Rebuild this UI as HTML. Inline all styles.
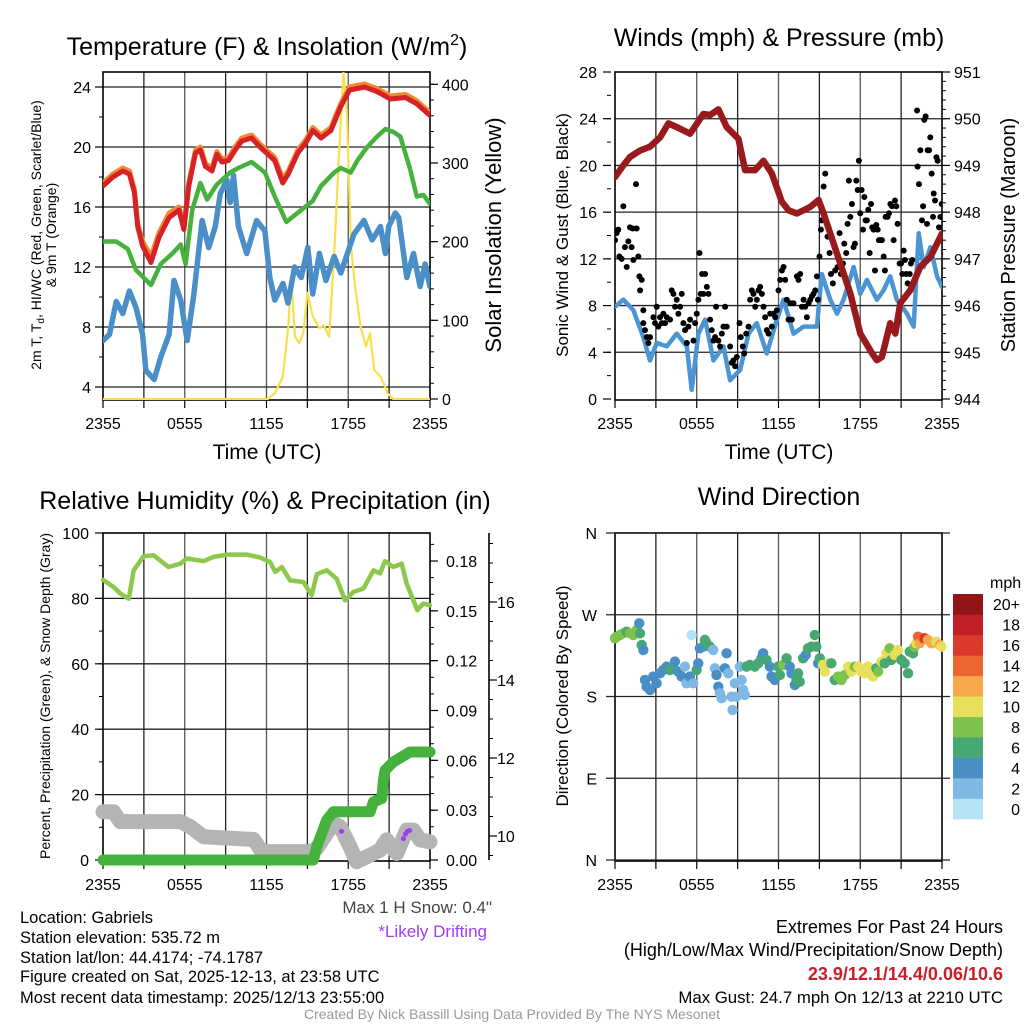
<!DOCTYPE html>
<html><head><meta charset="utf-8">
<style>
html,body{margin:0;padding:0;background:#fff;}
svg{display:block;font-family:"Liberation Sans",Arial,sans-serif;}
</style></head>
<body>
<svg id="fig" width="1024" height="1024" viewBox="0 0 1024 1024" xmlns="http://www.w3.org/2000/svg">
<defs>
<clipPath id="c1"><rect x="103" y="72" width="327" height="328"/></clipPath>
<clipPath id="c2"><rect x="615" y="72" width="327" height="328"/></clipPath>
<clipPath id="c3"><rect x="92" y="520" width="346" height="350"/></clipPath>
<clipPath id="c4"><rect x="608" y="525" width="342" height="342"/></clipPath>
</defs>
<text x="267" y="55" font-size="25" text-anchor="middle">Temperature (F) &amp; Insolation (W/m<tspan dy="-10" font-size="16">2</tspan><tspan dy="10">)</tspan></text>
<text x="779" y="46" font-size="25" text-anchor="middle">Winds (mph) &amp; Pressure (mb)</text>
<text x="265" y="509" font-size="25" text-anchor="middle">Relative Humidity (%) &amp; Precipitation (in)</text>
<text x="779" y="505" font-size="25" text-anchor="middle">Wind Direction</text>

<text transform="translate(41,235) rotate(-90)" font-size="14" text-anchor="middle">2m T, T<tspan dy="3" font-size="10">d</tspan><tspan dy="-3">, HI/WC (Red, Green, Scarlet/Blue)</tspan></text>
<text transform="translate(56,235) rotate(-90)" font-size="14" text-anchor="middle">&amp; 9m T (Orange)</text>
<text transform="translate(501,235) rotate(-90)" font-size="22" text-anchor="middle">Solar Insolation (Yellow)</text>
<text x="267" y="459" font-size="21" text-anchor="middle">Time (UTC)</text>
<text transform="translate(568,235) rotate(-90)" font-size="17" text-anchor="middle">Sonic Wind &amp; Gust (Blue, Black)</text>
<text transform="translate(1015,235) rotate(-90)" font-size="20" text-anchor="middle">Station Pressure (Maroon)</text>
<text x="779" y="459" font-size="21" text-anchor="middle">Time (UTC)</text>
<text transform="translate(50,696) rotate(-90)" font-size="14" text-anchor="middle">Percent, Precipitation (Green), &amp; Snow Depth (Gray)</text>
<text transform="translate(568,696) rotate(-90)" font-size="17" text-anchor="middle">Direction (Colored By Speed)</text>

<g font-size="16.5">
<text x="20" y="923">Location: Gabriels</text>
<text x="20" y="943">Station elevation: 535.72 m</text>
<text x="20" y="963">Station lat/lon: 44.4174; -74.1787</text>
<text x="20" y="982">Figure created on Sat, 2025-12-13, at 23:58 UTC</text>
<text x="20" y="1003">Most recent data timestamp: 2025/12/13 23:55:00</text>
<text x="492" y="913" text-anchor="end" font-size="17" fill="#444">Max 1 H Snow: 0.4"</text>
<text x="487" y="937" text-anchor="end" font-size="17" fill="#a23cf0">*Likely Drifting</text>
<text x="1003" y="933" text-anchor="end" font-size="18">Extremes For Past 24 Hours</text>
<text x="1003" y="956" text-anchor="end" font-size="18">(High/Low/Max Wind/Precipitation/Snow Depth)</text>
<text x="1003" y="980" text-anchor="end" font-size="18" font-weight="bold" fill="#c8202a">23.9/12.1/14.4/0.06/10.6</text>
<text x="1003" y="1003" text-anchor="end" font-size="16.8">Max Gust: 24.7 mph On 12/13 at 2210 UTC</text>
<text x="512" y="1019" text-anchor="middle" font-size="14" fill="#999">Created By Nick Bassill Using Data Provided By The NYS Mesonet</text>
</g>
<g id="plots"></g>
</svg>
<script>
// ---------- Panel 1 data ----------
const tempT = [0,0.73,1.45,1.94,2.3,2.55,2.91,3.52,4.12,4.85,5.58,5.94,6.3,6.79,7.15,7.52,8.0,8.36,8.73,9.21,9.7,10.18,10.91,11.52,12.6,13.2,13.6,14.3,14.9,15.4,16.0,16.73,17.45,18.1,19.2,20.1,21.1,22.2,23.0,24.0];
const tempV = [17.4,18.0,18.4,18.2,17.0,14.7,13.4,12.3,14.0,15.3,15.8,14.5,17.4,19.6,19.8,18.7,18.4,19.5,19.0,19.1,19.8,20.4,20.6,20.0,19.1,17.6,18.2,19.6,20.3,21.1,20.6,21.1,22.7,23.8,24.0,23.7,23.2,23.3,22.9,22.1];
const temp9T = [0,0.73,1.45,1.94,2.3,2.55,2.91,3.52,4.12,4.85,5.58,5.94,6.3,6.79,7.15,7.52,8.0,8.36,8.73,9.21,9.7,10.18,10.91,11.52,12.6,13.2,13.6,14.3,14.9,15.4,16.0,16.73,17.45,18.1,19.2,20.1,21.1,22.2,23.0,24.0];
const temp9V = [17.6,18.2,18.6,18.4,17.2,14.9,13.7,12.7,14.3,15.6,16.0,14.7,17.6,19.8,20.0,18.9,18.6,19.7,19.2,19.3,20.0,20.6,20.8,20.2,19.3,17.9,18.4,19.8,20.5,21.3,20.8,21.3,22.9,24.0,24.2,23.9,23.4,23.5,23.1,22.3];
const dewT = [0,0.97,1.82,2.42,3.52,4.24,5.09,5.7,6.06,6.55,7.15,7.64,8.36,9.33,9.94,10.91,11.88,12.61,13.45,14.55,15.39,16.0,16.97,17.45,18.18,18.67,19.39,20.12,20.73,21.33,21.82,22.55,23.03,23.52,24.0];
const dewV = [13.7,13.7,13.2,11.8,10.8,12.2,12.9,13.5,12.2,15.8,17.6,16.5,17.5,18.3,18.6,19.0,18.3,16.7,15.0,15.8,16.4,17.4,18.3,18.6,18.3,19.1,20.0,20.7,21.2,21.0,20.7,18.5,16.7,16.8,16.2];
const wcT = [0,0.48,0.97,1.45,1.94,2.42,2.91,3.15,3.76,4.24,4.85,5.21,5.7,6.18,6.67,7.27,7.76,8.24,8.61,9.09,9.33,9.58,9.94,10.55,11.27,11.88,12.24,12.61,13.21,13.58,14.06,14.55,15.03,15.39,15.88,16.36,16.97,17.45,17.94,18.42,19.15,19.76,20.36,20.73,20.97,21.45,21.7,22.3,22.79,23.27,23.64,24.0];
const wcV = [7.1,7.5,9.7,8.9,10.4,9.3,7.5,5.1,4.5,6.0,7.5,11.1,9.8,7.1,10.2,15.1,13.3,14.7,16.9,17.8,16.3,18.1,14.7,12.9,15.1,14.4,11.3,9.8,10.9,9.6,12.0,11.3,13.3,10.2,12.9,11.1,12.7,11.6,12.9,14.2,15.1,13.8,14.7,12.9,14.7,15.6,15.3,11.3,12.9,10.7,12.2,10.7];
const solarT = [0,12.1,12.6,13.2,13.6,13.8,14.1,14.4,14.7,15.0,15.4,15.9,16.2,16.6,17.0,17.3,17.65,17.9,18.2,18.5,18.9,19.3,19.6,19.9,20.4,20.9,21.3,24.0];
const solarV = [0,0,7,28,92,156,79,71,84,135,105,90,94,79,194,304,415,364,194,143,92,67,84,37,28,7,0,0];
const p1LeftTicks = [4,8,12,16,20,24];
const p1RightTicks = [0,100,200,300,400];
const timeTicks = ["2355","0555","1155","1755","2355"];

// ---------- Panel 2 data ----------
const windT = [0,0.61,1.35,2.08,2.57,3.06,3.8,4.53,5.27,5.63,6.12,6.61,7.23,7.96,8.45,9.19,9.8,10.41,11.14,11.88,12.37,13.1,13.84,14.82,15.18,15.8,16.29,16.78,17.51,18.0,18.49,19.22,19.71,20.2,20.69,21.43,21.92,22.29,22.66,23.15,23.64,24.0];
const windV = [7.9,8.5,7.6,5.3,3.3,4.8,4.5,5.6,4.5,0.8,5.6,6.8,3.3,4.5,1.6,2.5,5.6,6.5,3.9,6.8,8.5,5.6,6.2,6.2,10.7,8.5,7.3,8.5,11.3,9.0,10.2,8.5,9.3,10.5,8.5,7.3,6.2,14.2,11.3,13.0,10.5,9.6];
const presT = [0,0.61,1.1,1.84,2.57,3.31,3.92,4.53,5.51,6.49,6.98,7.59,8.2,9.06,9.55,10.29,10.9,11.51,12.25,12.74,13.35,14.33,14.94,15.31,16.29,17.27,18.0,18.86,19.22,19.59,20.2,20.57,20.94,21.67,22.41,23.15,24.0];
const presV = [948.75,949.0,949.18,949.32,949.4,949.6,949.9,949.82,949.68,950.1,950.08,950.2,949.82,949.57,948.9,948.9,949.1,948.83,948.22,948.04,947.97,948.11,948.26,947.97,947.11,946.26,945.4,944.98,944.83,944.9,945.62,945.4,946.05,946.33,946.83,947.04,947.54];
const gustT = [0.00,0.12,0.24,0.32,0.49,0.61,0.73,0.86,0.98,1.10,1.22,1.30,1.35,1.54,1.59,1.71,1.79,1.84,1.96,2.08,2.08,2.20,2.33,2.45,2.57,2.82,2.94,3.06,3.18,3.31,3.43,3.55,3.67,3.80,4.04,4.16,4.29,4.41,4.53,4.65,4.78,4.90,5.02,5.14,5.27,5.39,5.51,5.76,5.88,6.00,6.12,6.20,6.29,6.39,6.49,6.61,6.74,6.86,6.98,7.10,7.23,7.35,7.42,7.59,7.71,7.84,7.96,8.08,8.20,8.45,8.57,8.69,8.82,8.94,9.14,9.23,9.38,9.48,9.63,9.80,9.92,10.04,10.16,10.29,10.41,10.53,10.65,10.78,10.90,11.02,11.14,11.27,11.39,11.51,11.63,11.76,11.88,12.00,12.12,12.25,12.37,12.49,12.61,12.74,12.86,12.98,13.10,13.35,13.47,13.59,13.72,13.84,13.96,14.08,14.21,14.33,14.45,14.57,14.70,14.82,14.89,15.01,15.11,15.18,15.31,15.43,15.60,15.75,15.85,15.99,16.16,16.34,16.48,16.58,16.73,16.83,16.97,17.07,17.17,17.27,17.39,17.51,17.61,17.71,17.81,17.90,18.00,18.10,18.20,18.30,18.39,18.49,18.59,18.69,18.79,18.88,18.98,19.08,19.18,19.28,19.37,19.47,19.59,19.72,19.81,19.86,20.01,20.11,20.21,20.33,20.45,20.55,20.65,20.74,20.89,20.99,21.09,21.19,21.28,21.38,21.48,21.63,21.72,21.82,22.17,22.21,22.31,22.41,22.53,22.61,22.70,22.80,22.90,22.95,23.05,23.14,23.24,23.34,23.39,23.49,23.59,23.68,23.78,23.88,23.98];
const gustV = [13.6,14.2,14.5,12.2,12.0,16.5,13.0,11.3,13.5,14.7,13.0,14.6,11.9,18.4,14.6,12.2,10.5,9.3,10.2,7.6,6.5,5.9,5.3,4.8,5.3,7.0,6.5,7.9,6.2,7.0,6.5,7.3,6.5,7.0,6.8,9.3,9.0,7.9,8.5,7.3,7.9,9.0,6.5,5.9,4.8,6.2,6.8,5.0,6.5,7.3,8.5,12.5,9.0,10.7,9.0,10.7,9.6,9.0,6.8,5.9,5.0,5.3,7.9,5.0,4.5,5.6,6.2,7.9,6.2,4.5,3.1,3.3,2.8,3.6,6.5,5.3,4.5,3.9,5.6,6.2,8.5,9.3,9.0,7.9,8.5,9.3,9.6,9.0,7.9,7.0,5.9,5.6,7.3,6.2,7.3,7.0,7.6,9.3,10.2,11.0,11.3,10.2,8.5,6.8,8.2,6.8,8.2,10.5,10.2,10.7,7.9,8.5,7.9,7.0,8.2,8.5,8.8,9.0,9.3,10.5,8.5,12.2,14.5,15.3,18.2,19.3,13.9,12.5,10.7,9.9,11.0,11.3,14.2,10.7,11.6,13.3,12.5,15.0,18.7,15.6,16.7,13.0,13.3,18.7,17.9,20.4,15.9,17.9,14.5,17.3,15.3,15.3,16.2,12.5,16.7,14.7,14.5,11.0,14.9,14.5,13.6,13.6,13.6,12.2,11.0,15.6,15.6,15.9,16.7,16.5,13.6,17.0,16.5,15.0,11.6,11.6,10.7,12.7,11.9,10.7,9.9,10.7,11.6,11.9,24.7,19.9,18.4,21.3,15.3,16.5,23.9,24.2,15.0,21.3,21.3,22.4,19.3,15.6,17.6,17.0,20.7,20.4,14.7,15.6,16.7];
const p2LeftTicks = [0,4,8,12,16,20,24,28];
const p2RightTicks = [944,945,946,947,948,949,950,951];

// ---------- Panel 3 data ----------
const rhT = [0,0.78,1.27,1.89,2.25,2.98,3.71,4.81,5.67,6.16,7.38,8.11,9.09,10.55,11.53,12.27,12.64,13.12,13.73,14.71,15.32,15.69,16.42,17.15,17.77,18.38,19.11,19.85,20.34,20.7,21.31,21.92,22.29,22.78,23.07,23.51,24.0];
const rhV = [85.7,83.5,81.5,79.9,88.6,92.9,93.2,89.6,90.6,92.2,91.4,92.7,93.4,93.4,92.5,91.1,88.1,89.6,85.5,85.0,81.0,87.4,88.6,86.0,79.4,82.0,83.0,88.6,87.6,91.4,89.6,90.6,84.5,79.4,76.4,78.4,77.9];
const precipT = [0,15.44,15.69,16.42,16.91,19.6,19.85,20.46,20.58,20.7,21.31,22.53,24.0];
const precipV = [0,0,0.008,0.024,0.029,0.029,0.035,0.037,0.048,0.054,0.059,0.065,0.065];
const snowT = [0,0.78,1.27,5.67,6.4,7.38,11.05,11.66,15.2,15.69,16.91,17.4,18.13,18.62,19.6,20.34,20.82,21.56,22.29,22.78,23.27,24.0];
const snowV = [10.62,10.62,10.37,10.37,10.24,9.98,9.91,9.6,9.6,9.68,10.33,10.24,9.73,9.34,9.51,9.64,9.9,9.55,10.15,10.15,9.9,9.85];
const driftT = [17.5,22.05,22.2,22.35,22.5];
const driftV = [10.12,9.93,10.05,10.12,10.14];
const p3LeftTicks = [0,20,40,60,80,100];
const p3PrecipTicks = [0,0.03,0.06,0.09,0.12,0.15,0.18];
const p3SnowTicks = [10,12,14,16];

// ---------- Panel 4 data ----------
const dirT = [0,0.12,0.37,0.61,0.86,1.1,1.34,1.59,1.78,1.83,1.96,2.08,2.2,2.32,2.57,2.81,3.05,3.3,3.54,3.79,4.03,4.28,4.4,4.64,4.89,5.13,5.25,5.5,5.62,5.74,5.99,6.11,6.23,6.48,6.6,6.72,6.96,7.21,7.33,7.45,7.58,7.7,7.82,8.06,8.19,8.31,8.55,8.63,8.8,8.92,9.16,9.29,9.41,9.53,9.65,9.9,10.26,10.51,10.75,10.87,11.12,11.36,11.49,11.73,11.97,12.1,12.34,12.59,12.83,12.95,13.2,13.32,13.44,13.56,13.81,14.0,14.17,14.42,14.66,14.78,14.91,15.03,15.27,15.4,15.64,15.88,16.13,16.37,16.62,16.86,17.11,17.35,17.6,17.84,18.08,18.33,18.57,18.82,18.94,19.18,19.31,19.55,19.79,19.92,20.16,20.28,20.53,20.77,21.02,21.26,21.51,21.63,21.87,21.99,22.12,22.24,22.36,22.61,22.73,22.97,23.22,23.58,23.83,23.95];
const dirV = [244.1,245.9,247.7,249.6,251.4,249.6,247.7,253.2,260.6,249.6,236.7,231.2,198.2,190.8,187.2,201.9,194.5,205.5,209.2,212.9,209.2,211.0,218.4,207.4,201.9,212.9,194.5,201.9,247.7,194.5,209.2,216.5,233.0,234.9,242.2,238.6,234.9,231.2,211.0,203.7,190.8,183.5,178.0,211.0,227.5,205.5,179.8,165.2,194.5,179.8,212.9,198.2,187.2,181.7,212.9,214.7,212.9,216.5,222.0,227.5,220.2,212.9,201.9,198.2,212.9,203.7,214.7,222.0,212.9,205.5,192.7,198.2,205.5,196.3,222.0,225.7,233.0,234.9,247.7,234.9,216.5,222.0,214.7,207.4,216.5,216.5,198.2,201.9,198.2,203.7,212.9,207.4,212.9,212.9,207.4,205.5,212.9,207.4,201.9,211.0,207.4,218.4,216.5,227.5,233.0,220.2,225.7,231.2,220.2,216.5,205.5,229.4,227.5,234.9,238.6,245.9,238.6,244.1,244.1,242.2,238.6,240.4,236.7,234.9];
const dirS = [8,8,8,8,6,8,8,8,4,6,6,4,4,4,4,4,4,4,4,4,6,6,4,4,4,2,2,4,0,2,6,4,4,4,6,6,6,2,2,4,4,2,2,4,4,2,2,2,2,2,2,2,2,2,6,6,6,6,6,4,6,4,4,4,6,6,8,6,4,4,4,6,6,6,6,4,6,6,6,6,4,6,10,10,10,6,6,8,8,8,10,10,8,10,10,10,10,10,10,6,8,10,6,10,8,6,10,10,6,6,6,6,6,8,10,14,12,14,16,12,12,10,12,10];
const dirTickLabels = ["N","E","S","W","N"];
const speedBins = ["0","2","4","6","8","10","12","14","16","18","20+"];
const speedColors = ["#b3e3f7","#7fb9e3","#4a8ec6","#48a873","#7cc24d","#e6e05a","#f6a84a","#ee6430","#dc3a2c","#c11f26","#8f1519"];

// ---------- helpers ----------
const NS = "http://www.w3.org/2000/svg";
const root = document.getElementById("plots");
function mk(tag, attrs, parent) {
  const e = document.createElementNS(NS, tag);
  for (const k in attrs) e.setAttribute(k, attrs[k]);
  (parent || root).appendChild(e);
  return e;
}
function pathD(ts, vs, fx, fy) {
  let d = "";
  for (let i = 0; i < ts.length; i++) d += (i ? "L" : "M") + fx(ts[i]).toFixed(1) + "," + fy(vs[i]).toFixed(1);
  return d;
}
function txt(x, y, s, size, anchor, parent) {
  const t = mk("text", {x: x, y: y, "font-size": size, "text-anchor": anchor}, parent);
  t.textContent = s;
  return t;
}

// scales
const x1 = t => 103 + t / 24 * 327;
const x2 = t => 615 + t / 24 * 327;
const yT = v => 447 - v * 15;
const yS = v => 399 - v * 314.7 / 400;
const yW = v => 399 - v * 327 / 28;
const yP = p => 399 - (p - 944) * 327 / 7;
const yRH = v => 860 - v * 3.27;
const yPr = v => 860 - v * 299 / 0.18;
const ySn = d => 836 - (d - 10) * 39;
const yD = d => 860 - d * 327 / 360;

function frame(x0, y0, name, hLines, yf) {
  const g = mk("g", {});
  
  
  for (let k = 1; k < 8; k++) {
    const x = x0 + k * 327 / 8;
    const l = mk("line", {x1: x, y1: y0, x2: x, y2: y0 + 328, stroke: k % 2 ? "#222" : "#555", "stroke-width": 1.3}, g);
    
    
  }
  hLines.forEach(v => {
    const y = yf(v);
    const l = mk("line", {x1: x0, y1: y, x2: x0 + 327, y2: y, stroke: "#222", "stroke-width": 1.3}, g);
    
    
  });
  const r = mk("rect", {x: x0, y: y0, width: 327, height: 328, fill: "none", stroke: "#000", "stroke-width": 1.6}, g);
  
  
  for (let k = 0; k <= 8; k++) {
    const x = x0 + k * 327 / 8;
    mk("line", {x1: x, y1: y0 + 328, x2: x, y2: y0 + 336, stroke: "#000", "stroke-width": 1.2}, g);
  }
  timeTicks.forEach((s, i) => {
    const t = txt(x0 + i * 327 / 4, y0 + 357, s, 16, "middle", g);
    
    
  });
  return g;
}
function axisTicks(x, ticks, minorStep, yf, side, fmt, name, lo, hi, labOff) {
  const g = mk("g", {});
  
  
  const dir = side === "left" ? -1 : 1;
  for (let v = lo; v <= hi + 1e-9; v += minorStep) {
    const y = yf(v);
    mk("line", {x1: x, y1: y, x2: x + dir * 4, y2: y, stroke: "#000", "stroke-width": 1}, g);
  }
  ticks.forEach(v => {
    const y = yf(v);
    mk("line", {x1: x, y1: y, x2: x + dir * 8, y2: y, stroke: "#000", "stroke-width": 1.2}, g);
    const t = txt(x + dir * (labOff || 12), y + 6, fmt(v), 16, side === "left" ? "end" : "start", g);
    
    
  });
  return g;
}

// ---------- Panel 1 ----------
frame(103, 72, "temperature-plot-frame", p1LeftTicks, yT);
axisTicks(103, p1LeftTicks, 2, yT, "left", v => String(v), "temperature-left-axis", 4, 24);
axisTicks(430, p1RightTicks, 20, yS, "right", v => String(v), "solar-right-axis", 0, 400);
const c1 = mk("g", {"clip-path": "url(#c1)", fill: "none", "stroke-linejoin": "round", "stroke-linecap": "round"});


let p;
p = mk("path", {d: pathD(solarT, solarV, x1, yS), stroke: "#f8e04c", "stroke-width": 2.2}, c1);


p = mk("path", {d: pathD(wcT, wcV, x1, yT), stroke: "#4a8fc8", "stroke-width": 5.5}, c1);


p = mk("path", {d: pathD(dewT, dewV, x1, yT), stroke: "#46b23e", "stroke-width": 4.5}, c1);


p = mk("path", {d: pathD(temp9T, temp9V, x1, yT), stroke: "#f28a30", "stroke-width": 5}, c1);


p = mk("path", {d: pathD(tempT, tempV, x1, yT), stroke: "#d62226", "stroke-width": 5}, c1);



// ---------- Panel 2 ----------
frame(615, 72, "winds-plot-frame", p2LeftTicks.slice(1, 7), yW);
axisTicks(611, p2LeftTicks, 2, yW, "left", v => String(v), "wind-left-axis", 0, 28, 14);
axisTicks(942, p2RightTicks, 0.2, yP, "right", v => String(v), "pressure-right-axis", 944, 951);
const c2 = mk("g", {"clip-path": "url(#c2)", fill: "none", "stroke-linejoin": "round", "stroke-linecap": "round"});


p = mk("path", {d: pathD(windT, windV, x2, yW), stroke: "#4b95d2", "stroke-width": 4.5}, c2);


for (let i = 0; i < gustT.length; i++) {
  const c = mk("circle", {cx: x2(gustT[i]), cy: yW(gustV[i]), r: 3, fill: "#000", stroke: "none"}, c2);
  
  
}
p = mk("path", {d: pathD(presT, presV, x2, yP), stroke: "#981a1c", "stroke-width": 6.5}, c2);



// ---------- Panel 3 ----------
frame(103, 533, "humidity-plot-frame", [20, 40, 60, 80], yRH);
axisTicks(103, p3LeftTicks, 10, yRH, "left", v => String(v), "humidity-left-axis", 0, 100, 14);
axisTicks(430, p3PrecipTicks, 0.01, yPr, "right", v => v.toFixed(2), "precip-right-axis", 0, 0.19, 16);
const snAxis = mk("line", {x1: 489, y1: 533, x2: 489, y2: 860, stroke: "#000", "stroke-width": 1.6});


axisTicks(489, p3SnowTicks, 0.5, ySn, "right", v => String(v), "snow-depth-right-axis", 9.5, 17.5, 8);
const c3 = mk("g", {"clip-path": "url(#c3)", fill: "none", "stroke-linejoin": "round", "stroke-linecap": "round"});


p = mk("path", {d: pathD(snowT, snowV, x1, ySn), stroke: "#b4b4b4", "stroke-width": 15}, c3);


p = mk("path", {d: pathD(precipT, precipV, x1, yPr), stroke: "#46b23e", "stroke-width": 11}, c3);


p = mk("path", {d: pathD(rhT, rhV, x1, yRH), stroke: "#8cc84b", "stroke-width": 4.5}, c3);


for (let i = 0; i < driftT.length; i++) {
  const c = mk("circle", {cx: x1(driftT[i]), cy: ySn(driftV[i]), r: 2.5, fill: "#a23cf0"}, c3);
  
  
}

// ---------- Panel 4 ----------
frame(615, 533, "direction-plot-frame", [], yD);
const g4 = mk("g", {});


[0, 90, 180, 270, 360].forEach((d, i) => {
  const y = yD(d);
  mk("line", {x1: 606, y1: y, x2: 950, y2: y, stroke: "#222", "stroke-width": 1.3}, g4);
  const t = txt(597, y + 6, dirTickLabels[i], 16, "end", g4);
  
  
});
const c4 = mk("g", {"clip-path": "url(#c4)"});


for (let i = 0; i < dirT.length; i++) {
  const bin = Math.min(10, Math.floor(dirS[i] / 2));
  const c = mk("circle", {cx: x2(dirT[i]), cy: yD(dirV[i]), r: 5.2, fill: speedColors[bin]}, c4);
  
  
}
// colorbar
const cb = mk("g", {});


const mph = txt(990, 588, "mph", 16, "start", cb);


const cellH = 225 / speedBins.length;
for (let i = 0; i < speedBins.length; i++) {
  const j = speedBins.length - 1 - i;
  const y = 594 + j * cellH;
  const r = mk("rect", {x: 953, y: y, width: 30, height: cellH + 0.3, fill: speedColors[i]}, cb);
  
  
  const t = txt(1020, y + cellH / 2 + 6, speedBins[i], 16, "end", cb);
  
  
}
</script>
</body></html>
